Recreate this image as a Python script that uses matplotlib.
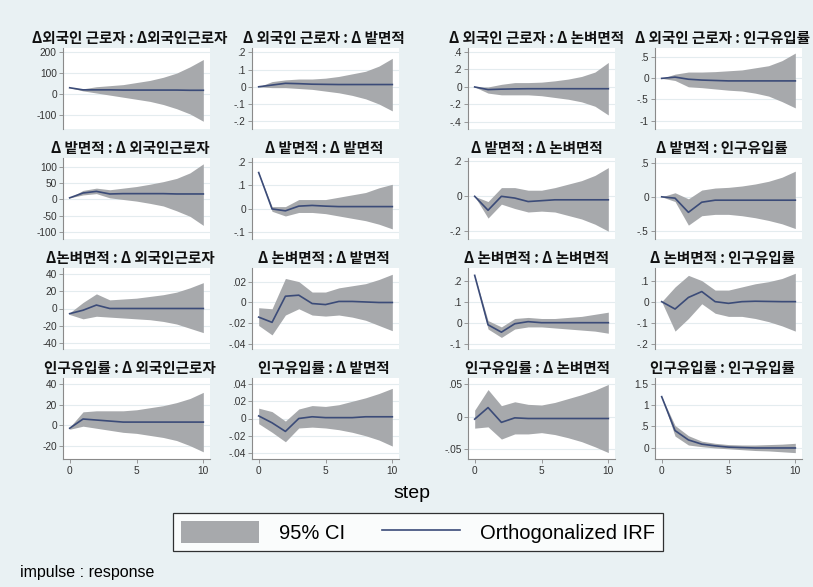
import matplotlib
matplotlib.use("Agg")
import matplotlib.pyplot as plt
from matplotlib.patches import Patch
from matplotlib.lines import Line2D

plt.rcParams['font.family'] = ['Liberation Sans', 'DejaVu Sans']

steps = list(range(11))

# response order in every impulse block: 외국인근로자, 밭면적, 논벼면적, 인구유입률
titles = [
    ["Δ외국인 근로자 : Δ외국인근로자", "Δ 외국인 근로자 : Δ 밭면적",
     "Δ 외국인 근로자 : Δ 논벼면적", "Δ 외국인 근로자 : 인구유입률"],
    ["Δ 밭면적 : Δ 외국인근로자", "Δ 밭면적 : Δ 밭면적",
     "Δ 밭면적 : Δ 논벼면적", "Δ 밭면적 : 인구유입률"],
    ["Δ논벼면적 : Δ 외국인근로자", "Δ 논벼면적 : Δ 밭면적",
     "Δ 논벼면적 : Δ 논벼면적", "Δ 논벼면적 : 인구유입률"],
    ["인구유입률 : Δ 외국인근로자", "인구유입률 : Δ 밭면적",
     "인구유입률 : Δ 논벼면적", "인구유입률 : 인구유입률"],
]

# impulse: 외국인근로자
fw_irf = [[30, 20, 20, 20, 19, 19, 19, 19, 19, 18, 18],
          [0, .01, .02, .018, .015, .014, .013, .013, .013, .013, .013],
          [0, -.03, -.025, -.022, -.02, -.02, -.02, -.02, -.02, -.02, -.02],
          [0, .03, -.02, -.04, -.05, -.06, -.06, -.06, -.06, -.06, -.06]]
fw_lo = [[30, 15, 5, -5, -15, -25, -35, -50, -70, -95, -130],
         [0, -.005, -.005, -.01, -.015, -.025, -.035, -.05, -.07, -.1, -.14],
         [0, -.07, -.09, -.09, -.09, -.1, -.12, -.14, -.17, -.22, -.32],
         [0, -.05, -.2, -.22, -.25, -.28, -.3, -.35, -.42, -.55, -.7]]
fw_hi = [[30, 25, 35, 40, 45, 55, 65, 80, 100, 130, 165],
         [0, .03, .04, .045, .045, .05, .06, .075, .09, .12, .165],
         [0, 0, .03, .05, .05, .055, .07, .09, .12, .17, .28],
         [0, .1, .15, .15, .16, .18, .2, .25, .3, .42, .6]]

# impulse: 밭면적
fd_irf = [[5, 20, 25, 17, 18, 18, 18, 18, 17, 17, 17],
          [.155, 0, -.008, .012, .015, .012, .01, .01, .01, .01, .01],
          [0, -.08, 0, -.01, -.03, -.025, -.02, -.02, -.02, -.02, -.02],
          [0, -.02, -.23, -.08, -.05, -.05, -.05, -.05, -.05, -.05, -.05]]
fd_lo = [[5, 14, 18, 5, 0, -5, -12, -20, -35, -52, -80],
         [.155, -.01, -.03, -.015, -.015, -.02, -.03, -.04, -.05, -.065, -.085],
         [0, -.125, -.045, -.07, -.09, -.085, -.09, -.11, -.13, -.16, -.2],
         [0, -.07, -.42, -.28, -.26, -.26, -.28, -.31, -.35, -.4, -.47]]
fd_hi = [[5, 28, 35, 30, 35, 40, 47, 55, 65, 82, 110],
         [.155, .01, .01, .04, .04, .04, .05, .06, .07, .09, .105],
         [0, -.03, .05, .05, .035, .035, .05, .07, .09, .12, .165],
         [0, .06, -.03, .1, .13, .14, .16, .19, .23, .29, .38]]

# impulse: 논벼면적
pd_irf = [[-6, -2, 4, 0, 0, 0, 0, 0, 0, 0, 0],
          [-.014, -.019, .006, .007, -.001, -.002, .001, .001, .0005, .0, .0],
          [.225, -.01, -.045, -.005, .005, 0, 0, 0, 0, 0, 0],
          [0, -.035, .02, .048, 0, -.008, 0, .002, .001, 0, 0]]
pd_lo = [[-7, -12, -9, -10, -11, -12, -13, -15, -18, -23, -28],
         [-.022, -.031, -.012, -.006, -.012, -.013, -.012, -.014, -.017, -.022, -.027],
         [.225, -.03, -.07, -.03, -.02, -.02, -.025, -.03, -.035, -.04, -.05],
         [0, -.14, -.08, -.01, -.055, -.07, -.07, -.08, -.095, -.115, -.14]]
pd_hi = [[-5, 7, 17, 10, 11, 12, 14, 16, 19, 24, 30],
         [-.005, -.006, .023, .02, .01, .01, .014, .016, .018, .022, .027],
         [.225, .01, -.02, .02, .025, .02, .02, .025, .03, .04, .05],
         [0, .07, .125, .1, .055, .055, .07, .085, .095, .11, .135]]

# impulse: 인구유입률
im_irf = [[-3, 6, 5, 4, 3, 3, 3, 3, 3, 3, 3],
          [.003, -.005, -.015, 0, .002, .001, .001, .001, .002, .002, .002],
          [-.004, .014, -.009, -.002, -.003, -.003, -.003, -.003, -.003, -.003, -.003],
          [1.2, .4, .18, .08, .04, .01, 0, -.01, -.01, -.01, -.01]]
im_lo = [[-4, -1, -3, -5, -7, -8, -10, -12, -15, -20, -26],
         [-.006, -.016, -.027, -.011, -.01, -.011, -.013, -.016, -.02, -.025, -.032],
         [-.018, -.016, -.035, -.027, -.027, -.025, -.028, -.033, -.039, -.047, -.056],
         [1.2, .27, .06, .02, -.01, -.03, -.05, -.07, -.08, -.1, -.12]]
im_hi = [[-2, 13, 14, 14, 14, 15, 17, 19, 22, 26, 32],
         [.012, .008, -.003, .011, .015, .014, .016, .02, .024, .029, .035],
         [.01, .042, .017, .023, .019, .018, .022, .028, .034, .041, .05],
         [1.2, .52, .28, .15, .1, .07, .06, .06, .07, .08, .1]]

yticks = [
    [[-100, 0, 100, 200], [-.2, -.1, 0, .1, .2], [-.4, -.2, 0, .2, .4], [-1, -.5, 0, .5]],
    [[-100, -50, 0, 50, 100], [-.1, 0, .1, .2], [-.2, 0, .2], [-.5, 0, .5]],
    [[-40, -20, 0, 20, 40], [-.04, -.02, 0, .02], [-.1, 0, .1, .2], [-.2, -.1, 0, .1]],
    [[-20, 0, 20, 40], [-.04, -.02, 0, .02, .04], [-.05, 0, .05], [0, .5, 1, 1.5]],
]
ylims = [
    [(-167, 220), (-.245, .225), (-.48, .445), (-1.2, .72)],
    [(-122, 128), (-.128, .217), (-.245, .22), (-.625, .575)],
    [(-47, 47), (-.0445, .033), (-.125, .26), (-.225, .16)],
    [(-33, 46), (-.047, .047), (-.066, .06), (-.27, 1.64)],
]

irf_rows = [fw_irf, fd_irf, pd_irf, im_irf]
lo_rows = [fw_lo, fd_lo, pd_lo, im_lo]
hi_rows = [fw_hi, fd_hi, pd_hi, im_hi]


def stata_fmt(v):
    # Stata drops the leading zero: 0.2 -> .2, -0.05 -> -.05
    s = "%g" % v
    if s.startswith("0."):
        s = s[1:]
    elif s.startswith("-0."):
        s = "-" + s[2:]
    return s


W, H = 813, 587
bg = '#e9f1f3'
band_col = '#a7a9ac'
line_col = '#3b4b78'

fig = plt.figure(figsize=(W / 100, H / 100), dpi=100)
fig.patch.set_facecolor(bg)

lefts = [63, 252, 468, 655]
title_x = [130, 324, 537, 722]
tops = [48, 158, 268, 378]
pw, ph = 147, 81

for r in range(4):
    for c in range(4):
        ax = fig.add_axes([lefts[c] / W, 1 - (tops[r] + ph) / H, pw / W, ph / H])
        ax.set_facecolor('white')
        ax.fill_between(steps, lo_rows[r][c], hi_rows[r][c], color=band_col, lw=0)
        ax.plot(steps, irf_rows[r][c], color=line_col, lw=1.2)
        ax.set_xlim(-0.5, 10.5)
        ax.set_ylim(*ylims[r][c])
        ax.set_yticks(yticks[r][c])
        ax.set_yticklabels([stata_fmt(v) for v in yticks[r][c]])
        ax.grid(axis='y', color='#e4ecef', lw=0.8)
        ax.set_axisbelow(True)
        for s in ['top', 'right']:
            ax.spines[s].set_visible(False)
        ax.spines['left'].set_color('#8a8a8a')
        ax.spines['left'].set_linewidth(0.8)
        ax.tick_params(axis='y', labelsize=7.3, length=3, width=0.6, color='#8a8a8a',
                       pad=1.5, labelcolor='#333333')
        if r == 3:
            ax.set_xticks([0, 5, 10])
            ax.spines['bottom'].set_color('#8a8a8a')
            ax.spines['bottom'].set_linewidth(0.8)
            ax.tick_params(axis='x', labelsize=7.3, length=3, width=0.6, color='#8a8a8a',
                           pad=2, labelcolor='#333333')
        else:
            ax.set_xticks([])
            ax.spines['bottom'].set_visible(False)
        fig.text(title_x[c] / W, 1 - (tops[r] - 10) / H, titles[r][c],
                 ha='center', va='center', fontsize=10.5, fontweight='bold',
                 family=['Noto Sans CJK KR', 'DejaVu Sans'], color='#111111')

fig.text(412 / W, 1 - 493 / H, "step", ha='center', va='center', fontsize=14)

handles = [Patch(facecolor=band_col, edgecolor='none'),
           Line2D([0], [0], color=line_col, lw=1.2)]
leg = fig.legend(handles, ["95% CI", "Orthogonalized IRF"], ncol=2,
                 loc='center', bbox_to_anchor=(418 / W, 1 - 532 / H),
                 fontsize=14.5, frameon=True, fancybox=False, edgecolor='black',
                 handlelength=3.9, handleheight=1.3, handletextpad=1.0,
                 columnspacing=1.8, borderpad=0.4)
leg.get_frame().set_linewidth(0.9)

fig.text(20 / W, 1 - 572 / H, "impulse : response", ha='left', va='center', fontsize=11.5)

fig.savefig("out.png", dpi=100, facecolor=bg)
